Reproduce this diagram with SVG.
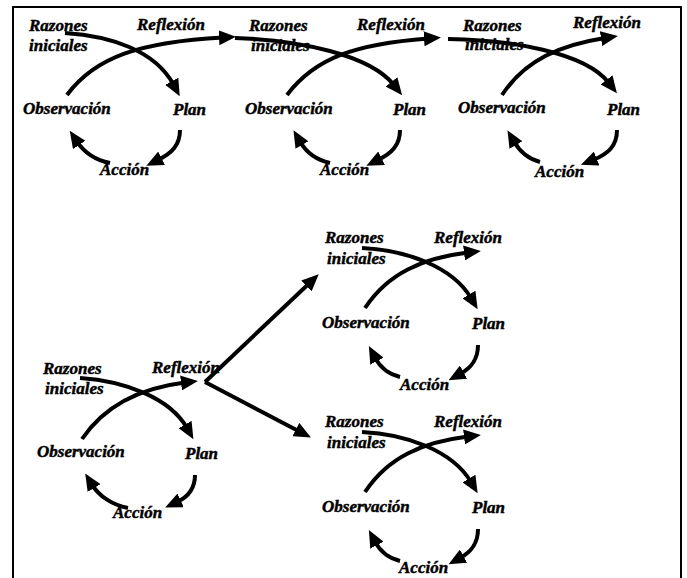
<svg xmlns="http://www.w3.org/2000/svg" width="687" height="578" viewBox="0 0 687 578">
  <defs>
    <style>
      .lbl { font-family: "Liberation Serif", "Times New Roman", serif; font-size: 17px; font-weight: bold; font-style: italic; fill: #000; stroke: #000; stroke-width: 0.45; }
      .arc { fill: none; stroke: #000; stroke-width: 4; stroke-linecap: butt; marker-end: url(#head); }
      .frame { fill: none; stroke: #000; stroke-width: 2; }
    </style>
    <marker id="head" markerUnits="userSpaceOnUse" markerWidth="17" markerHeight="15" viewBox="0 0 17 15" refX="4" refY="7.5" orient="auto">
      <path d="M0,0 L17,7.5 L0,15 z" fill="#000"/>
    </marker>
  </defs>

  <rect width="687" height="578" fill="#fff"/>
  <!-- outer frame, open at the bottom edge -->
  <rect class="frame" x="13" y="7" width="668" height="600"/>

  <!-- top row, cycle 1 -->
  <g id="cycle1">
    <g id="c1-razones"><text class="lbl" x="29" y="31">Razones</text><text class="lbl" x="29" y="51">iniciales</text></g>
    <g id="c1-reflexion"><text class="lbl" x="137" y="30">Reflexión</text></g>
    <g id="c1-observacion"><text class="lbl" x="23" y="114">Observación</text></g>
    <g id="c1-plan"><text class="lbl" x="173" y="115">Plan</text></g>
    <g id="c1-accion"><text class="lbl" x="100" y="175">Acción</text></g>
  </g>

  <!-- top row, cycle 2 -->
  <g id="cycle2">
    <g id="c2-razones"><text class="lbl" x="249" y="31">Razones</text><text class="lbl" x="251" y="51">iniciales</text></g>
    <g id="c2-reflexion"><text class="lbl" x="357" y="30">Reflexión</text></g>
    <g id="c2-observacion"><text class="lbl" x="245" y="114">Observación</text></g>
    <g id="c2-plan"><text class="lbl" x="393" y="115">Plan</text></g>
    <g id="c2-accion"><text class="lbl" x="320" y="175">Acción</text></g>
  </g>

  <!-- top row, cycle 3 -->
  <g id="cycle3">
    <g id="c3-razones"><text class="lbl" x="463" y="31">Razones</text><text class="lbl" x="465" y="50">iniciales</text></g>
    <g id="c3-reflexion"><text class="lbl" x="573" y="28">Reflexión</text></g>
    <g id="c3-observacion"><text class="lbl" x="458" y="113">Observación</text></g>
    <g id="c3-plan"><text class="lbl" x="607" y="115">Plan</text></g>
    <g id="c3-accion"><text class="lbl" x="535" y="177">Acción</text></g>
  </g>

  <!-- lower left cycle -->
  <g id="cycle4">
    <g id="c4-razones"><text class="lbl" x="43" y="374">Razones</text><text class="lbl" x="45" y="394">iniciales</text></g>
    <g id="c4-reflexion"><text class="lbl" x="152" y="373">Reflexión</text></g>
    <g id="c4-observacion"><text class="lbl" x="37" y="457">Observación</text></g>
    <g id="c4-plan"><text class="lbl" x="185" y="459">Plan</text></g>
    <g id="c4-accion"><text class="lbl" x="113" y="518">Acción</text></g>
  </g>

  <!-- upper right branch cycle -->
  <g id="cycle5">
    <g id="c5-razones"><text class="lbl" x="325" y="243">Razones</text><text class="lbl" x="327" y="264">iniciales</text></g>
    <g id="c5-reflexion"><text class="lbl" x="434" y="243">Reflexión</text></g>
    <g id="c5-observacion"><text class="lbl" x="322" y="328">Observación</text></g>
    <g id="c5-plan"><text class="lbl" x="472" y="329">Plan</text></g>
    <g id="c5-accion"><text class="lbl" x="400" y="390">Acción</text></g>
  </g>

  <!-- lower right branch cycle -->
  <g id="cycle6">
    <g id="c6-razones"><text class="lbl" x="325" y="427">Razones</text><text class="lbl" x="327" y="448">iniciales</text></g>
    <g id="c6-reflexion"><text class="lbl" x="434" y="427">Reflexión</text></g>
    <g id="c6-observacion"><text class="lbl" x="322" y="512">Observación</text></g>
    <g id="c6-plan"><text class="lbl" x="472" y="513">Plan</text></g>
    <g id="c6-accion"><text class="lbl" x="399" y="573">Acción</text></g>
  </g>

  <g id="connectors">
    <!-- cycle 1 -->
    <path class="arc" d="M65,33 C110,36 155,50 173.6,84.8"/>
    <path class="arc" d="M67,95 C95,57 140,42 223,37.5"/>
    <path class="arc" d="M180,130 C180,145 172,153 158,160"/>
    <path class="arc" d="M110,163 C95,160 84,152 77,141.6"/>
    <!-- cycle 2 -->
    <path class="arc" d="M235,38 C300,40 370,55 394,85"/>
    <path class="arc" d="M287,95 C315,58 355,44 428,38.5"/>
    <path class="arc" d="M400,130 C400,145 392,153 378,160"/>
    <path class="arc" d="M330,163 C316,160 306,152 300,141.6"/>
    <!-- cycle 3 -->
    <path class="arc" d="M448,39 C510,40 585,52 609,83"/>
    <path class="arc" d="M502,95 C525,60 560,45 605,38"/>
    <path class="arc" d="M617,130 C617,146 608,154 593,160"/>
    <path class="arc" d="M540,162 C528,159 520,152 514,141.6"/>
    <!-- cycle 4 -->
    <path class="arc" d="M80,378 C125,381 170,398 187,428"/>
    <path class="arc" d="M82,439 C105,405 140,388 185,382.5"/>
    <path class="arc" d="M195,475 C195,489 188,497 177,502"/>
    <path class="arc" d="M128,508 C112,505 99,496 92,484.6"/>
    <!-- branching from cycle 4 -->
    <path class="arc" d="M205,382 L309.3,283.2"/>
    <path class="arc" d="M205,382 L299.4,431.4"/>
    <!-- cycle 5 -->
    <path class="arc" d="M362,248 C405,250 452,266 471,298"/>
    <path class="arc" d="M365,308 C388,273 423,258 468,252.5"/>
    <path class="arc" d="M478,345 C478,360 471,368 460,374"/>
    <path class="arc" d="M400,377 C388,374 380,367 375,357.6"/>
    <!-- cycle 6 -->
    <path class="arc" d="M362,432 C405,434 452,450 471,482"/>
    <path class="arc" d="M365,492 C388,457 423,442 468,436.5"/>
    <path class="arc" d="M478,529 C478,544 471,552 460,558"/>
    <path class="arc" d="M400,561 C388,558 380,551 375,541.6"/>
  </g>
</svg>
